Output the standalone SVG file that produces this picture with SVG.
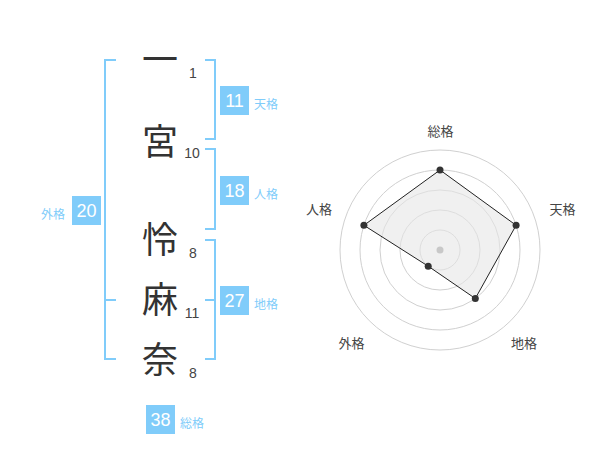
<svg xmlns="http://www.w3.org/2000/svg" width="600" height="470" viewBox="0 0 600 470">
<style>
.br{fill:none;stroke:#80ccfa;stroke-width:2}
.box{fill:#80ccfa}
.bn{font-family:"Liberation Sans",Arial,sans-serif;font-size:18px;fill:#fff;text-anchor:middle}
.lb{font-family:"Noto Sans CJK JP",sans-serif;font-size:12px;fill:#80ccfa}
.kj{font-family:"Noto Sans CJK JP",sans-serif;font-size:36px;fill:#333;text-anchor:middle}
.sn{font-family:"Liberation Sans",Arial,sans-serif;font-size:14px;fill:#444;text-anchor:middle}
.rl{font-family:"Noto Sans CJK JP",sans-serif;font-size:13px;fill:#444;text-anchor:middle}
.ring{fill:none;stroke:#d0d0d0;stroke-width:1}
.pt{fill:#333}
</style>
<rect width="600" height="470" fill="#fff"/>
<g id="connectors">
<path class="br" d="M116,60 H105 V359 H116 M105,300 H116"/>
<path class="br" d="M205,60 H215 V139 H205"/>
<path class="br" d="M205,149 H215 V229 H205"/>
<path class="br" d="M205,240 H215 V359 H205 M205,300 H215"/>
</g>
<g id="name">
<text class="kj" x="160" y="73">一</text>
<text class="kj" x="160" y="155">宮</text>
<text class="kj" x="160" y="253">怜</text>
<text class="kj" x="160" y="313">麻</text>
<text class="kj" x="160" y="373">奈</text>
<text class="sn" x="193" y="78">1</text>
<text class="sn" x="192" y="158">10</text>
<text class="sn" x="193" y="258">8</text>
<text class="sn" x="192" y="318">11</text>
<text class="sn" x="193" y="378">8</text>
</g>
<g id="tenkaku">
<rect class="box" x="220" y="86" width="29" height="29"/>
<text class="bn" x="234.5" y="107">11</text>
<text class="lb" x="254" y="109">天格</text>
</g>
<g id="jinkaku">
<rect class="box" x="220" y="176" width="29" height="29"/>
<text class="bn" x="234.5" y="197">18</text>
<text class="lb" x="254" y="199">人格</text>
</g>
<g id="chikaku">
<rect class="box" x="220" y="286" width="29" height="29"/>
<text class="bn" x="234.5" y="307">27</text>
<text class="lb" x="254" y="309">地格</text>
</g>
<g id="gaikaku">
<rect class="box" x="72" y="196" width="29" height="29"/>
<text class="bn" x="86.5" y="217">20</text>
<text class="lb" x="41" y="219">外格</text>
</g>
<g id="soukaku">
<rect class="box" x="146" y="405" width="29" height="29"/>
<text class="bn" x="160.5" y="426">38</text>
<text class="lb" x="180" y="428">総格</text>
</g>
<g id="radar">
<circle class="ring" cx="440" cy="250" r="20"/>
<circle class="ring" cx="440" cy="250" r="40"/>
<circle class="ring" cx="440" cy="250" r="60"/>
<circle class="ring" cx="440" cy="250" r="80"/>
<circle class="ring" cx="440" cy="250" r="100"/>
<polygon points="440,170 516.1,225.3 475.3,298.5 428.2,266.2 363.9,225.3" fill="#e6e6e6" fill-opacity="0.6" stroke="#222" stroke-width="1"/>
<circle cx="440" cy="250" r="3.5" fill="#c8c8c8"/>
<circle class="pt" cx="440" cy="170" r="3.5"/>
<circle class="pt" cx="516.1" cy="225.3" r="3.5"/>
<circle class="pt" cx="475.3" cy="298.5" r="3.5"/>
<circle class="pt" cx="428.2" cy="266.2" r="3.5"/>
<circle class="pt" cx="363.9" cy="225.3" r="3.5"/>
<text class="rl" x="440.5" y="135.5">総格</text>
<text class="rl" x="562.5" y="213.5">天格</text>
<text class="rl" x="319" y="213.5">人格</text>
<text class="rl" x="351.5" y="347.5">外格</text>
<text class="rl" x="524" y="347.5">地格</text>
</g>
</svg>
